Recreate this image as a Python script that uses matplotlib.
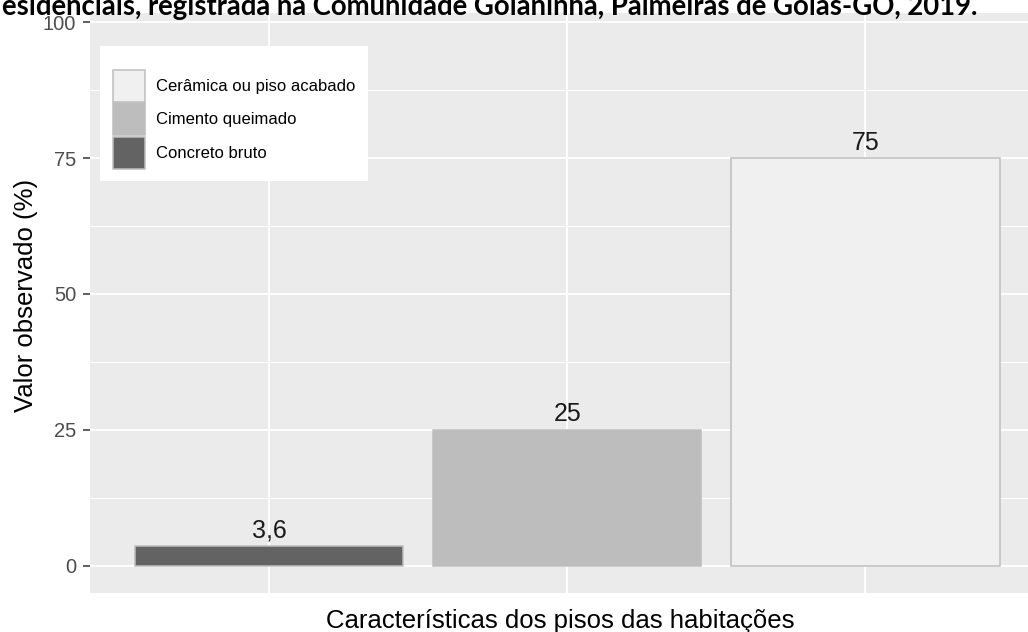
import matplotlib
matplotlib.use("Agg")
import matplotlib.pyplot as plt
from matplotlib.patches import Patch

plt.rcParams['font.family'] = ['Liberation Sans', 'DejaVu Sans']

# floor types and observed share of dwellings (%)
categories = ['Concreto bruto', 'Cimento queimado', 'Cerâmica ou piso acabado']
values = [3.6, 25, 75]
value_labels = ['3,6', '25', '75']
fills = ['#636363', '#BDBDBD', '#F0F0F0']
legend_order = [2, 1, 0]

title = 'esidenciais, registrada na Comunidade Goianinha, Palmeiras de Goiás-GO, 2019.'
W, H = 1028, 632

fig = plt.figure(figsize=(W / 100, H / 100), dpi=100)
ax = fig.add_axes([90 / W, (H - 593) / H, (W - 90) / W, 580 / H])
ax.set_facecolor('#EBEBEB')

xpos = list(range(1, len(categories) + 1))
ax.bar(xpos, values, width=0.9, color=fills, edgecolor='#BEBEBE',
       linewidth=1.1, zorder=3)
for x, v, lab in zip(xpos, values, value_labels):
    ax.annotate(lab, (x, v), xytext=(0, 6), textcoords='offset points',
                ha='center', va='baseline', fontsize=18, color='#1A1A1A',
                zorder=4)

ax.set_xlim(0.4, 3.545)
ax.set_ylim(-5.06, 101.7)
ax.set_xticks(xpos)
ax.set_xticklabels([])
ax.set_yticks([0, 25, 50, 75, 100])
ax.set_yticks([12.5, 37.5, 62.5, 87.5], minor=True)
ax.grid(which='major', color='white', linewidth=1.3, zorder=0)
ax.grid(which='minor', axis='y', color='white', linewidth=0.7, zorder=0)
ax.set_axisbelow(True)
for s in ax.spines.values():
    s.set_visible(False)
ax.tick_params(axis='x', length=0)
ax.tick_params(axis='y', which='major', length=5, width=1.1, color='#333333',
               labelsize=14.5, labelcolor='#4D4D4D', pad=5)
ax.tick_params(axis='y', which='minor', length=0)

ax.set_ylabel('Valor observado (%)', fontsize=18.5, color='black', va='baseline')
ax.yaxis.set_label_coords(-0.0608, 0.513)
ax.set_xlabel('Características dos pisos das habitações', fontsize=18.5,
              color='black', va='baseline')
ax.xaxis.set_label_coords(0.5016, -0.0603)

handles = [Patch(facecolor=fills[i], edgecolor='#BEBEBE', linewidth=1.1,
                 label=categories[i]) for i in legend_order]
leg = ax.legend(handles=handles, loc='upper left',
                bbox_to_anchor=(100 / W, 1 - 46 / H), bbox_transform=fig.transFigure,
                fontsize=12, title=' ', title_fontsize=7.5,
                handlelength=1.92, handleheight=2.58, handletextpad=0.7,
                labelspacing=0.08, borderpad=0.75, borderaxespad=0,
                frameon=True, fancybox=False, framealpha=1)
leg.get_frame().set_facecolor('white')
leg.get_frame().set_edgecolor('none')
leg.set_zorder(5)

# bold header line, its start runs off the left edge
t = fig.text(977 / W, 1 - 15 / H, title, ha='right', va='baseline',
             fontsize=20, fontweight='bold', family=['Lato', 'DejaVu Sans'])
fig.canvas.draw()
w = t.get_window_extent().width
t.set_fontsize(20 * 979 / w)

fig.savefig('out.png', dpi=100)
